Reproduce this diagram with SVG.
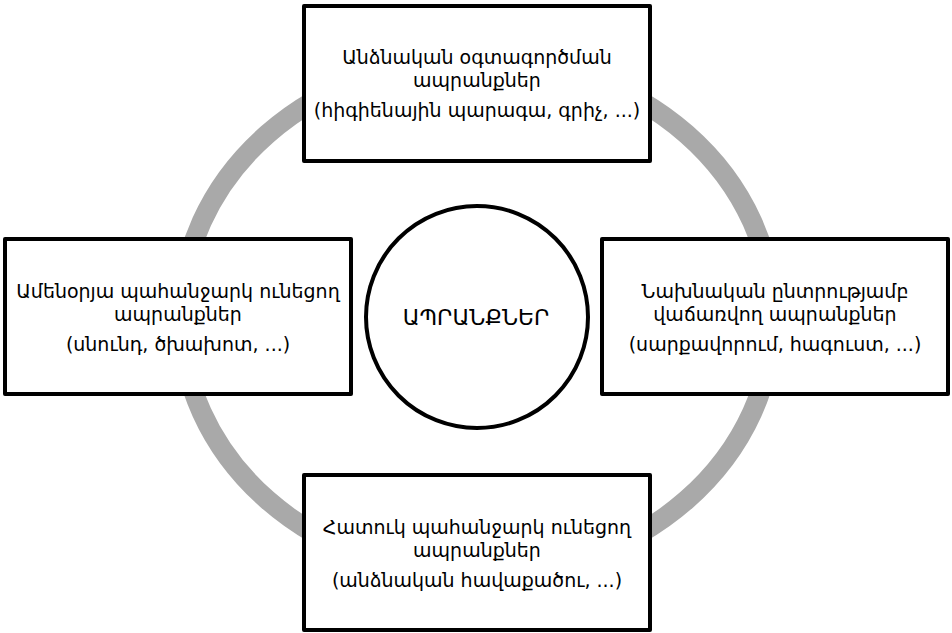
<svg xmlns="http://www.w3.org/2000/svg" width="952" height="633" viewBox="0 0 952 633">
<style>
.box{fill:#ffffff;stroke:#000000;stroke-width:4;stroke-linejoin:round}
.t{font-family:"DejaVu Sans","Noto Sans",sans-serif;font-size:19px;fill:#000000;text-anchor:middle}
</style>
<rect width="952" height="633" fill="#ffffff"/>
<g id="connectors">
<ellipse cx="477" cy="317" rx="296" ry="259" fill="none" stroke="#a9a9a9" stroke-width="20"/>
</g>
<g id="center">
<circle cx="477" cy="317" r="111" fill="#ffffff" stroke="#000000" stroke-width="4"/>
<text class="t" x="476" y="325" style="font-size:22px">ԱՊՐԱՆՔՆԵՐ</text>
</g>
<g id="top">
<rect class="box" x="304" y="6" width="346" height="155"/>
<text class="t" x="477" y="64">Անձնական օգտագործման</text>
<text class="t" x="477" y="87">ապրանքներ</text>
<text class="t" x="477" y="117">(հիգիենային պարագա, գրիչ, ...)</text>
</g>
<g id="left">
<rect class="box" x="5" y="239" width="346" height="155"/>
<text class="t" x="178" y="298">Ամենօրյա պահանջարկ ունեցող</text>
<text class="t" x="178" y="321">ապրանքներ</text>
<text class="t" x="178" y="351">(սնունդ, ծխախոտ, ...)</text>
</g>
<g id="right">
<rect class="box" x="602" y="239" width="346" height="155"/>
<text class="t" x="775" y="298">Նախնական ընտրությամբ</text>
<text class="t" x="775" y="321">վաճառվող ապրանքներ</text>
<text class="t" x="775" y="351">(սարքավորում, հագուստ, ...)</text>
</g>
<g id="bottom">
<rect class="box" x="304" y="475" width="346" height="155"/>
<text class="t" x="477" y="534">Հատուկ պահանջարկ ունեցող</text>
<text class="t" x="477" y="557">ապրանքներ</text>
<text class="t" x="477" y="587">(անձնական հավաքածու, ...)</text>
</g>
</svg>
